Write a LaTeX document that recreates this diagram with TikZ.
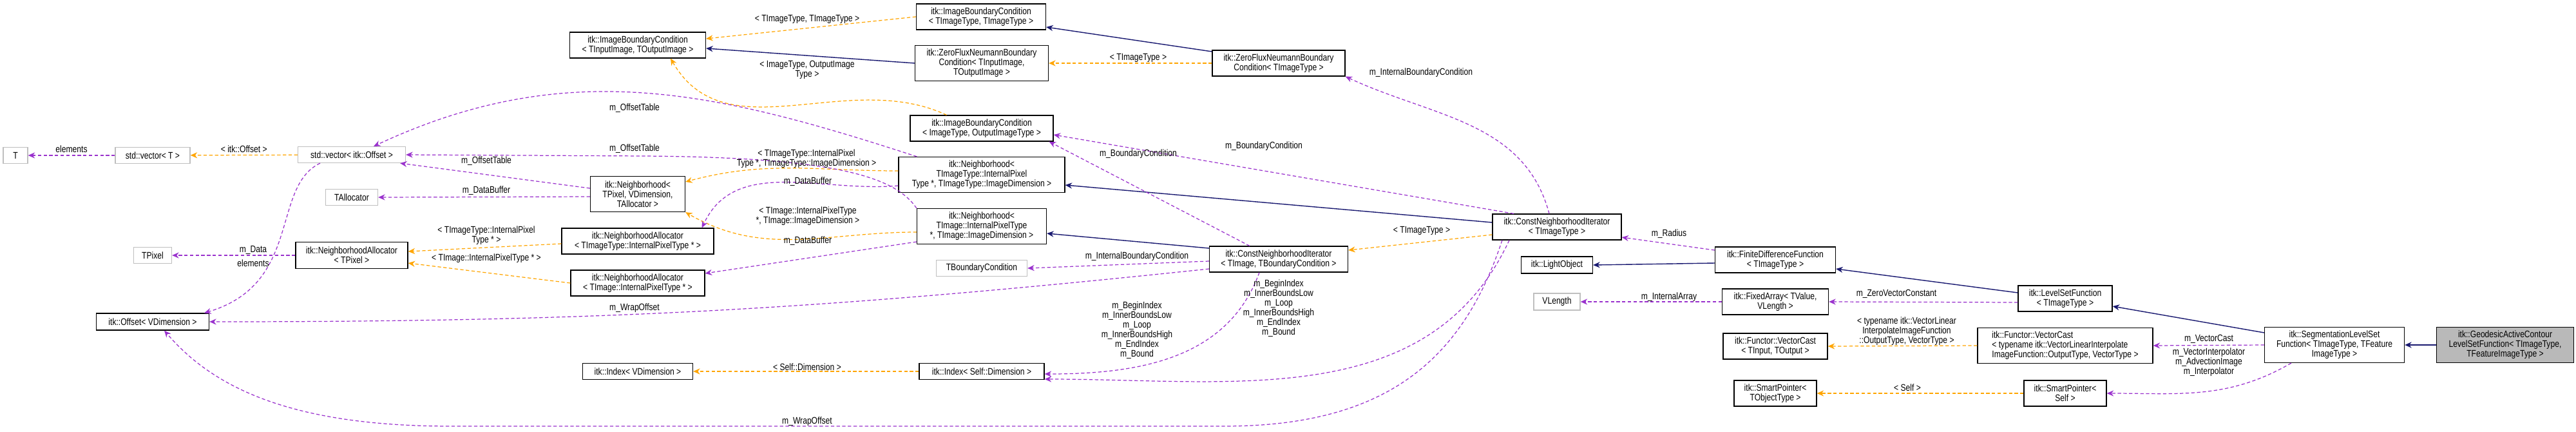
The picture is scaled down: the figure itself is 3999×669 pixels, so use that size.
\documentclass[tikz,border=0pt]{standalone}
\usepackage{fontspec}
\setmainfont{Liberation Sans}[FakeStretch=0.82]
\usetikzlibrary{positioning, arrows.meta}
\definecolor{usecol}{HTML}{9A32CD}
\definecolor{tplcol}{HTML}{FFA500}
\definecolor{inhcol}{HTML}{191970}
\begin{document}
\begin{tikzpicture}[x=0.01cm, y=-0.01cm,
    every node/.style={font=\fontsize{4.2}{4.3}\selectfont, inner sep=0pt, align=center},
    sz/.style 2 args={minimum width=#1*0.01cm, minimum height=#2*0.01cm},
    cls/.style={draw=black, line width=0.35pt, fill=white}, % Documented class.
    ext/.style={draw=gray!50, line width=0.35pt, fill=white}, % External type.
    me/.style={draw=black, line width=0.35pt, fill=gray!55},
    use/.style={draw=usecol, dashed, dash pattern=on 1.5pt off 1pt, line width=0.35pt, -{Stealth[length=3pt, width=2.6pt, fill=usecol]}},
    tpl/.style={use, draw=tplcol, -{Stealth[length=3pt, width=2.6pt, fill=tplcol]}},
    inh/.style={draw=inhcol, line width=0.4pt, -{Stealth[length=3pt, width=2.6pt, fill=inhcol]}},
    lbl/.style={black}]
    \useasboundingbox (0,0) rectangle (3999,669);

        % Nodes.
        \node[ext, sz={38}{25}] (T) at (24,241) {T};
        \node[ext, sz={116}{25}] (vecT) at (237,241) {std::vector< T >};
        \node[ext, sz={167}{25}] (vecOff) at (546,240) {std::vector< itk::Offset >};
        \node[ext, sz={81}{25}] (TAlloc) at (546,306) {TAllocator};
        \node[ext, sz={59}{25}] (TPixel) at (237,396) {TPixel};
        \node[cls, sz={174}{41}] (naPix) at (546,396) {itk::NeighborhoodAllocator\\< TPixel >};
        \node[cls, sz={175}{26}] (offV) at (237,499) {itk::Offset< VDimension >};
        \node[cls, sz={211}{40}] (ibcIO) at (990,70) {itk::ImageBoundaryCondition\\< TInputImage, TOutputImage >};
        \node[cls, sz={147}{55}] (nbPix) at (990,301) {itk::Neighborhood<\\ TPixel, VDimension,\\ TAllocator >};
        \node[cls, sz={236}{40}] (naTT) at (990,374) {itk::NeighborhoodAllocator\\< TImageType::InternalPixelType * >};
        \node[cls, sz={208}{40}] (naTI) at (990,439) {itk::NeighborhoodAllocator\\< TImage::InternalPixelType * >};
        \node[cls, sz={171}{25}] (idxV) at (990,576) {itk::Index< VDimension >};
        \node[cls, sz={201}{40}] (ibcTT) at (1523,26) {itk::ImageBoundaryCondition\\< TImageType, TImageType >};
        \node[cls, sz={207}{55}] (zfIO) at (1524,98) {itk::ZeroFluxNeumannBoundary\\Condition< TInputImage,\\ TOutputImage >};
        \node[cls, sz={222}{40}] (ibcOut) at (1524,199) {itk::ImageBoundaryCondition\\< ImageType, OutputImageType >};
        \node[cls, sz={258}{55}] (nbTT) at (1524,271) {itk::Neighborhood<\\ TImageType::InternalPixel\\Type *, TImageType::ImageDimension >};
        \node[cls, sz={201}{55}] (nbTI) at (1524,351) {itk::Neighborhood<\\ TImage::InternalPixelType\\ *, TImage::ImageDimension >};
        \node[ext, sz={141}{25}] (tbc) at (1524,416) {TBoundaryCondition};
        \node[cls, sz={194}{25}] (idxS) at (1524,576) {itk::Index< Self::Dimension >};
        \node[cls, sz={206}{40}] (zfT) at (1985,98) {itk::ZeroFluxNeumannBoundary\\Condition< TImageType >};
        \node[cls, sz={215}{40}] (cniIB) at (1985,402) {itk::ConstNeighborhoodIterator\\< TImage, TBoundaryCondition >};
        \node[cls, sz={200}{40}] (cniT) at (2417,352) {itk::ConstNeighborhoodIterator\\< TImageType >};
        \node[cls, sz={111}{26}] (light) at (2417,411) {itk::LightObject};
        \node[ext, sz={72}{26}] (vlen) at (2417,468) {VLength};
        \node[cls, sz={187}{40}] (fdf) at (2756,403) {itk::FiniteDifferenceFunction\\< TImageType >};
        \node[cls, sz={165}{40}] (fixed) at (2756,468) {itk::FixedArray< TValue,\\ VLength >};
        \node[cls, sz={162}{40}] (vcIO) at (2756,537) {itk::Functor::VectorCast\\< TInput, TOutput >};
        \node[cls, sz={128}{40}] (spT) at (2756,610) {itk::SmartPointer<\\ TObjectType >};
        \node[cls, sz={146}{40}] (lsf) at (3206,463) {itk::LevelSetFunction\\< TImageType >};
        \node[cls, sz={272}{55}, align=left] (vcTy) at (3206,536) {itk::Functor::VectorCast\\< typename itk::VectorLinearInterpolate\\ImageFunction::OutputType, VectorType >};
        \node[cls, sz={128}{40}] (spS) at (3206,610) {itk::SmartPointer<\\ Self >};
        \node[cls, sz={217}{55}] (seg) at (3624,535) {itk::SegmentationLevelSet\\Function< TImageType, TFeature\\ImageType >};
        \node[me, sz={213}{55}] (geo) at (3889,535) {itk::GeodesicActiveContour\\LevelSetFunction< TImageType,\\ TFeatureImageType >};

        % Inheritance edges.
        \draw[inh] (zfIO.west) -- ([yshift=-0.05cm]ibcIO.east);
        \draw[inh] ([yshift=0.18cm]zfT.west) -- ([yshift=-0.16cm]ibcTT.east);
        \draw[inh] ([yshift=0.17cm]cniIB.west) -- ([yshift=-0.11cm]nbTI.east);
        \draw[inh] ([yshift=0.07cm]cniT.west) -- ([yshift=-0.16cm]nbTT.east);
        \draw[inh] ([yshift=-0.05cm]fdf.west) -- (light.east);
        \draw[inh] ([yshift=0.09cm]lsf.west) -- ([yshift=-0.14cm]fdf.east);
        \draw[inh] ([yshift=0.19cm]seg.west) -- ([yshift=-0.12cm]lsf.east);
        \draw[inh] (geo.west) -- (seg.east);

        % Template edges.
        \draw[tpl] (vecOff) -- (vecT) node[lbl, midway, above=1pt] {< itk::Offset >};
        \draw[tpl] ([yshift=-0.04cm]naTT.west) -- ([yshift=0.06cm]naPix.east);
        \draw[tpl] (naTI.west) -- ([yshift=-0.12cm]naPix.east);
        \draw[tpl] ([yshift=0.06cm]nbTT.west) to[out=180, in=15] ([yshift=0.19cm]nbPix.east);
        \draw[tpl] ([yshift=-0.09cm]nbTI.west) to[out=180, in=-30] (nbPix.south east);
        \draw[tpl] ([xshift=0.57cm]ibcOut.north west) to[out=155, in=-60] ([xshift=0.51cm]ibcIO.south);
        \draw[tpl] (ibcTT.west) -- ([yshift=0.10cm]ibcIO.east);
        \draw[tpl] (zfT.west) -- (zfIO.east);
        \draw[tpl] (idxS.west) -- (idxV.east);
        \draw[tpl] ([yshift=-0.12cm]cniT.west) -- ([yshift=0.14cm]cniIB.east);
        \draw[tpl] (vcTy.west) -- (vcIO.east);
        \draw[tpl] (spS.west) -- (spT.east);

        % Member edges.
        \draw[use] (vecT) -- (T) node[lbl, midway, above=1pt] {elements};
        \draw[use] ([xshift=-0.49cm]vecOff.south) .. controls (420,290) and (470,440) .. ([xshift=-0.08cm]offV.north east);
        \draw[use] (naPix) -- (TPixel);
        \draw[use] ([yshift=0.09cm]nbPix.west) -- ([xshift=-0.09cm]vecOff.south east);
        \draw[use] ([yshift=-0.04cm]nbPix.west) -- (TAlloc.east);
        \draw[use] ([yshift=-0.15cm]cniIB.west) to[out=186, in=0] (offV.east);
        \draw[use] ([xshift=-0.85cm]cniT.south) .. controls (2270,560) and (2150,661) .. (1900,661)
            -- (700,661) .. controls (450,661) and (330,600) .. ([xshift=0.18cm]offV.south);
        \draw[use] ([xshift=0.29cm]nbTT.north west) to[out=162, in=25] ([xshift=0.34cm]vecOff.north);
        \draw[use] (nbTI.north west) .. controls (1390,275) and (1300,244) .. (1000,242) -- (vecOff.east);
        \draw[use] ([yshift=-0.17cm]nbTT.west) to[out=185, in=65] ([xshift=-0.19cm]naTT.north east);
        \draw[use] ([yshift=-0.24cm]nbTI.west) -- ([yshift=0.15cm]naTI.east);
        \draw[use] ([xshift=-0.45cm]cniIB.north) -- ([xshift=-0.07cm]ibcOut.south east);
        \draw[use] ([xshift=-0.67cm]cniT.north) -- ([yshift=-0.10cm]ibcOut.east);
        \draw[use] ([xshift=-0.12cm]cniT.north) to[out=105, in=-25] (zfT.south east);
        \draw[use] ([yshift=-0.03cm]cniIB.west) -- (tbc.east);
        \draw[use] ([xshift=-0.30cm]cniIB.south) to[out=-110, in=0] ([yshift=-0.04cm]idxS.east);
        \draw[use] ([xshift=-0.74cm]cniT.south) to[out=-115, in=0] ([yshift=-0.12cm]idxS.east);
        \draw[use] ([yshift=0.15cm]fdf.west) -- ([yshift=-0.16cm]cniT.east);
        \draw[use] (fixed.west) -- (vlen.east);
        \draw[use] ([yshift=-0.06cm]lsf.west) -- (fixed.east);
        \draw[use] (seg.west) -- (vcTy.east);
        \draw[use] ([xshift=0.42cm]seg.south west) to[out=-150, in=0] (spS.east);

        % Labels.
        \node[lbl] (lElem) at (393,408) {elements};
        \node[lbl] (lData) at (393,388) {m\_Data};
        \node[lbl] (lOT1) at (755,250) {m\_OffsetTable};
        \node[lbl] (lDB1) at (755,296) {m\_DataBuffer};
        \node[lbl] (lNaTT) at (755,365) {< TImageType::InternalPixel\\Type * >};
        \node[lbl] (lNaTI) at (755,401) {< TImage::InternalPixelType * >};
        \node[lbl] (lWO1) at (985,478) {m\_WrapOffset};
        \node[lbl] (lWO2) at (1253,654) {m\_WrapOffset};
        \node[lbl] (lOT2) at (985,168) {m\_OffsetTable};
        \node[lbl] (lOT3) at (985,231) {m\_OffsetTable};
        \node[lbl] (lNbTT) at (1252,246) {< TImageType::InternalPixel\\Type *, TImageType::ImageDimension >};
        \node[lbl] (lDB2) at (1254,282) {m\_DataBuffer};
        \node[lbl] (lNbTI) at (1254,335) {< TImage::InternalPixelType\\*, TImage::ImageDimension >};
        \node[lbl] (lDB3) at (1254,374) {m\_DataBuffer};
        \node[lbl] (lIbcO) at (1253,108) {< ImageType, OutputImage\\Type >};
        \node[lbl] (lIbcT) at (1253,30) {< TImageType, TImageType >};
        \node[lbl] (lZf) at (1767,90) {< TImageType >};
        \node[lbl] (lBC1) at (1767,239) {m\_BoundaryCondition};
        \node[lbl] (lBC2) at (1962,227) {m\_BoundaryCondition};
        \node[lbl] (lIBC1) at (2206,113) {m\_InternalBoundaryCondition};
        \node[lbl] (lIBC2) at (1765,398) {m\_InternalBoundaryCondition};
        \node[lbl] (lIdx1) at (1765,512) {m\_BeginIndex\\m\_InnerBoundsLow\\m\_Loop\\m\_InnerBoundsHigh\\m\_EndIndex\\m\_Bound};
        \node[lbl] (lIdx2) at (1985,478) {m\_BeginIndex\\m\_InnerBoundsLow\\m\_Loop\\m\_InnerBoundsHigh\\m\_EndIndex\\m\_Bound};
        \node[lbl] (lSelf) at (1253,569) {< Self::Dimension >};
        \node[lbl] (lCni) at (2207,358) {< TImageType >};
        \node[lbl] (lRad) at (2591,363) {m\_Radius};
        \node[lbl] (lIA) at (2591,461) {m\_InternalArray};
        \node[lbl] (lZV) at (2944,456) {m\_ZeroVectorConstant};
        \node[lbl] (lVc) at (2960,514) {< typename itk::VectorLinear\\InterpolateImageFunction\\::OutputType, VectorType >};
        \node[lbl] (lSelf2) at (2961,601) {< Self >};
        \node[lbl] (lVcm) at (3429,526) {m\_VectorCast};
        \node[lbl] (lInt) at (3429,562) {m\_VectorInterpolator\\m\_AdvectionImage\\m\_Interpolator};
    \end{tikzpicture}
\end{document}
